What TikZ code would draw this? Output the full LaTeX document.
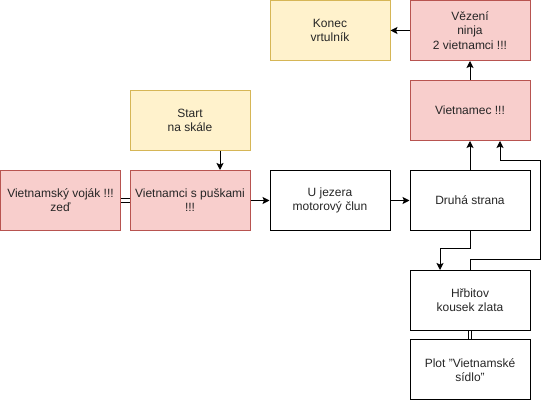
\documentclass[tikz,border=0pt]{standalone}
\usepackage{fontspec}
\setmainfont{Liberation Sans}
\usepackage{xcolor}
\usepackage{tikz}
\usetikzlibrary{arrows.meta}

\definecolor{redfill}{HTML}{F8CECC}
\definecolor{redline}{HTML}{B85450}
\definecolor{yelfill}{HTML}{FFF2CC}
\definecolor{yelline}{HTML}{D6B656}

\begin{document}
\begin{tikzpicture}[x=1pt,y=1pt,
    box/.style={draw,line width=1pt,minimum width=120pt,minimum height=60pt,inner sep=0pt,
      align=center,text=black!85,font=\fontsize{12}{14.2}\selectfont},
    redbox/.style={box,draw=redline,fill=redfill},
    yelbox/.style={box,draw=yelline,fill=yelfill},
    arr/.style={line width=1pt,-{Stealth[length=7pt,width=7pt,inset=1.5pt]}}]
      \useasboundingbox (0,0) rectangle (549,401);

      % Top row
      \node[yelbox] (konec) at (330,370.5) {Konec\\vrtulník};
      \node[redbox] (vezeni) at (470,370.5) {Vězení\\ninja\\2 vietnamci !!!};
      \node[redbox] (vietnamec) at (470,290.5) {Vietnamec !!!};
      \node[yelbox] (start) at (190,280.5) {Start\\na skále};

      % Middle row
      \node[redbox] (vojak) at (60.5,200.5) {Vietnamský voják !!!\\zeď};
      \node[redbox] (pusky) at (190,200.5) {Vietnamci s puškami\\!!!};
      \node[box] (jezero) at (330,200.5) {U jezera\\motorový člun};
      \node[box] (druha) at (470,200.5) {Druhá strana};

      % Bottom column
      \node[box] (hrbitov) at (470,100.5) {Hřbitov\\kousek zlata};
      \node[box] (plot) at (470,31) {Plot "Vietnamské\\sídlo"};

      % Links
      \draw[line width=1pt,double,double distance=2.4pt] (vojak.east) -- (pusky.west);
      \draw[line width=1pt,double,double distance=2.4pt] (hrbitov.south) -- (plot.north);

      % Arrows
      \draw[arr] ([xshift=30pt]start.south) -- ([xshift=30pt]pusky.north);
      \draw[arr] (pusky.east) -- (jezero.west);
      \draw[arr] (jezero.east) -- (druha.west);
      \draw[arr] (druha.north) -- (vietnamec.south);
      \draw[arr] (vietnamec.north) -- (vezeni.south);
      \draw[arr] (vezeni.west) -- (konec.east);
      \draw[arr] (druha.south) -- ++(0,-18) -| ([xshift=-30pt]hrbitov.north);
      \draw[arr] (hrbitov.north) -- ++(0,10) -| ([xshift=70pt,yshift=-19.5pt]vietnamec.south)
        -| ([xshift=30pt]vietnamec.south);
    \end{tikzpicture}
\end{document}
